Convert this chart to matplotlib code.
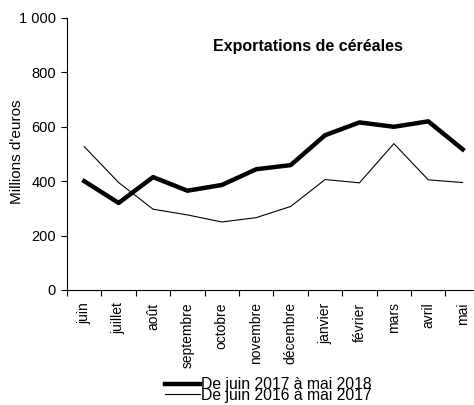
import numpy as np
import matplotlib.pyplot as plt
from matplotlib.ticker import FuncFormatter

plt.rcParams['font.family'] = ['Liberation Sans', 'DejaVu Sans']
plt.rcParams['font.size'] = 10

months = ['juin', 'juillet', 'août', 'septembre', 'octobre', 'novembre',
          'décembre', 'janvier', 'février', 'mars', 'avril', 'mai']
exp_2017_2018 = [400, 320, 415, 365, 386, 444, 459, 569, 616, 600, 620, 517]
exp_2016_2017 = [527, 395, 297, 276, 250, 266, 307, 406, 394, 538, 405, 395]
label_2018 = 'De juin 2017 à mai 2018'
label_2017 = 'De juin 2016 à mai 2017'

fig = plt.figure(figsize=(4.74, 4.05), dpi=100)
ax = fig.add_axes([0.1414, 0.284, 0.871, 0.6716])

x = np.arange(len(months))
ax.plot(x, exp_2017_2018, color='black', lw=3.2, label=label_2018)
ax.plot(x, exp_2016_2017, color='black', lw=0.8, label=label_2017)

ax.set_xlim(-0.5, len(months) - 0.5)
ax.set_ylim(0, 1000)
ax.set_yticks(range(0, 1001, 200))
ax.yaxis.set_major_formatter(FuncFormatter(lambda v, p: '{:,.0f}'.format(v).replace(',', ' ')))

# ticks between categories, labels on categories
ax.set_xticks(np.arange(-0.5, len(months), 1.0))
ax.set_xticklabels([])
ax.set_xticks(x, minor=True)
ax.set_xticklabels(months, minor=True, rotation=90, va='top')
ax.tick_params(axis='x', which='minor', length=0, pad=9)
ax.tick_params(axis='x', which='major', length=4, direction='out')
ax.tick_params(axis='y', length=4, direction='out', labelsize=10.5, pad=4)

for s in ['top', 'right']:
    ax.spines[s].set_visible(False)

fig.text(17 / 474, 1 - 152 / 405, "Millions d'euros", rotation=90,
         ha='center', va='center', fontsize=11)
ax.text(0.584, 0.895, 'Exportations de céréales', transform=ax.transAxes,
        ha='center', va='center', fontweight='bold', fontsize=11.5)

fig.legend(loc='lower center', bbox_to_anchor=(0.566, -0.018), frameon=False,
           handlelength=2.25, handletextpad=0.05, labelspacing=-0.29,
           borderpad=0.1, fontsize=11.3)

fig.savefig('out.png', dpi=100)
